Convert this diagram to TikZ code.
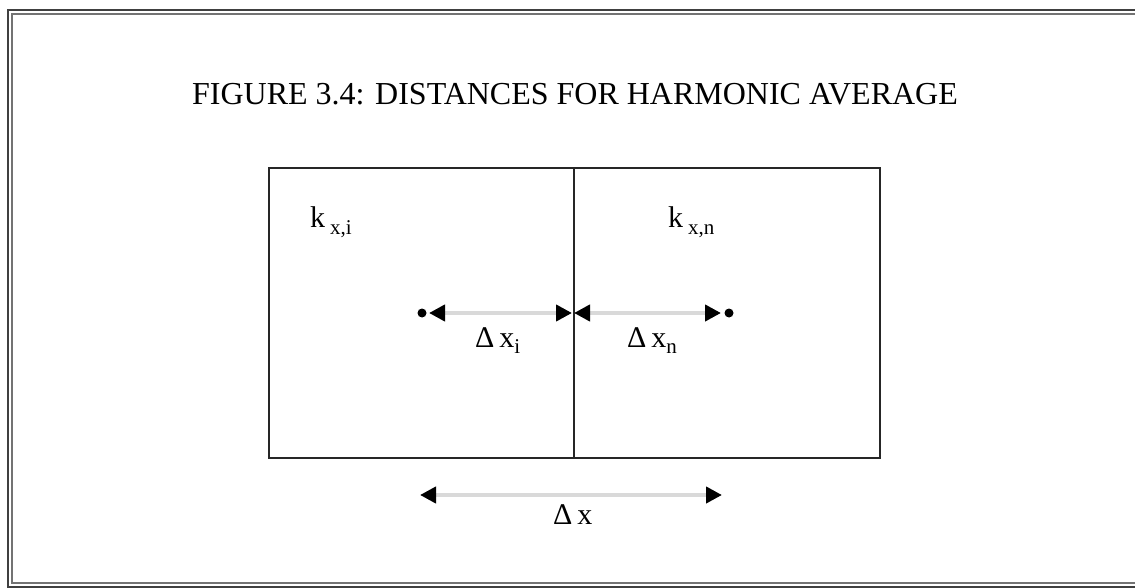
\documentclass[tikz,border=0pt]{standalone}
\usepackage{fontspec}
\setmainfont{Liberation Serif}
\usetikzlibrary{arrows.meta}
\begin{document}
\begin{tikzpicture}[x=1pt,y=-1pt,
  frameline/.style={draw=black!75,line width=1.2pt},
  boxline/.style={draw=black!85,line width=1.6pt},
  dimline/.style={draw=black!15,line width=4pt,
    {Triangle[length=16pt,width=16pt,color=black,fill=black]}-{Triangle[length=16pt,width=16pt,color=black,fill=black]}},
  bigtext/.style={font=\fontsize{30}{36}\selectfont,inner sep=0pt,anchor=base west},
  dotnode/.style={circle,fill=black,inner sep=0pt,minimum size=9pt}]
\useasboundingbox (0,0) rectangle (1135,588);
% outer double frame
\draw[frameline] (1135,10) -- (8,10) -- (8,587) -- (1135,587);
\draw[frameline,draw=black!55] (1135,14) -- (12,14) -- (12,583) -- (1135,583);
% title
\node[font=\fontsize{32}{38}\selectfont,inner sep=0pt,anchor=base] (title) at (575,105) {FIGURE 3.4: DISTANCES FOR HARMONIC AVERAGE};
% cells
\node[boxline,rectangle,minimum width=305pt,minimum height=290pt,inner sep=0pt,anchor=north west] (celli) at (268,167) {};
\node[boxline,rectangle,minimum width=306pt,minimum height=290pt,inner sep=0pt,anchor=north west] (celln) at (573,167) {};
% permeability labels
\node[bigtext] (ki) at (310,228) {k\,\raisebox{-6pt}{\fontsize{21}{24}\selectfont x,i}};
\node[bigtext] (kn) at (668,228) {k\,\raisebox{-6pt}{\fontsize{21}{24}\selectfont x,n}};
% distance arrows
\node[dotnode] (pi) at (422,313) {};
\node[dotnode] (pn) at (729,313) {};
\coordinate (ai) at (429,313);
\coordinate (face) at (573,313);
\coordinate (bn) at (721,313);
\draw[dimline] (ai) -- ([xshift=-1pt]face);
\draw[dimline] ([xshift=1pt]face) -- (bn);
\node[bigtext] (dxi) at (475,347) {Δ\,x\raisebox{-6pt}{\fontsize{21}{24}\selectfont i}};
\node[bigtext] (dxn) at (627,347) {Δ\,x\raisebox{-6pt}{\fontsize{21}{24}\selectfont n}};
% total distance
\coordinate (ta) at (420,495);
\coordinate (tb) at (722,495);
\draw[dimline] (ta) -- (tb);
\node[bigtext] (dx) at (553,524) {Δ\,x};
\end{tikzpicture}
\end{document}
